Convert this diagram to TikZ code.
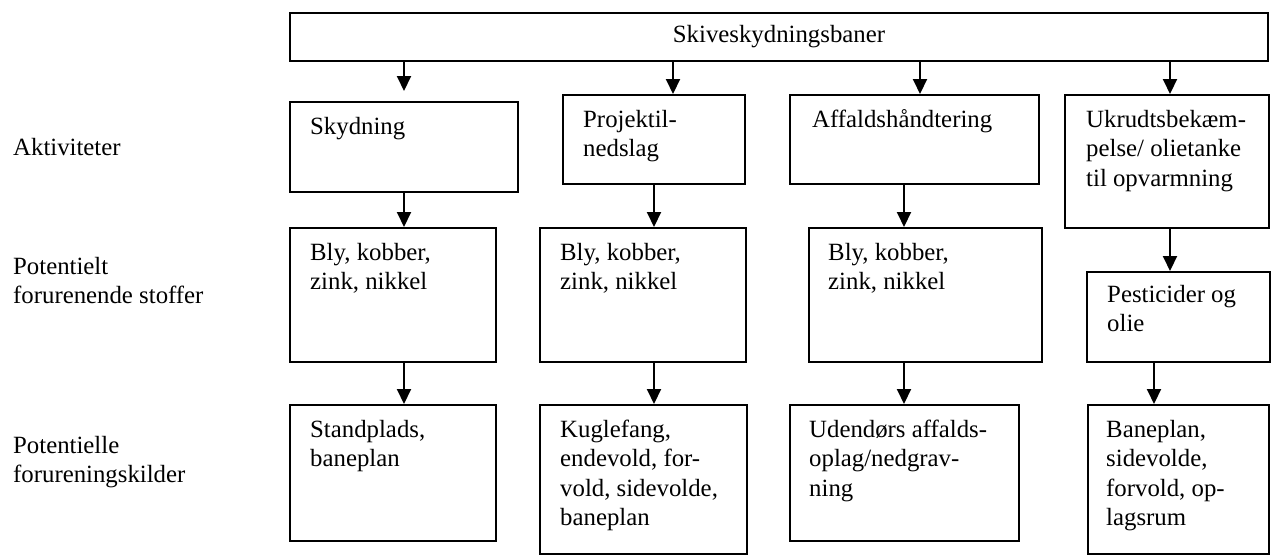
\documentclass[tikz,border=0pt]{standalone}
\usepackage{fontspec}
\setmainfont{Liberation Serif}
\usetikzlibrary{arrows.meta,calc}
\newcommand\dkfont{\fontsize{24.8}{29.5}\selectfont}
\begin{document}
\begin{tikzpicture}[x=1pt,y=-1pt,
  box/.style={draw=black, line width=2pt, inner sep=0pt, rectangle, anchor=north west},
  txt/.style={anchor=north west, inner sep=0pt, align=left, font=\dkfont},
  arr/.style={line width=2pt, -{Triangle[width=14pt,length=15pt]}},
]
\useasboundingbox (0,0) rectangle (1274,555);
% column coordinates for connectors
\coordinate (c1) at (404,0);
\coordinate (c2t) at (673,0);
\coordinate (c2) at (654,0);
\coordinate (c3t) at (920,0);
\coordinate (c3) at (904,0);
\coordinate (c4) at (1170,0);
\coordinate (c4b) at (1154,0);
% top box
\node[box, minimum width=978pt, minimum height=48pt, font=\dkfont] (top) at (289,12) {Skiveskydningsbaner};
% row 1
\node[box, minimum width=228pt, minimum height=90pt] (sky) at (289,101) {};
\node[box, minimum width=182pt, minimum height=89pt] (proj) at (562,94) {};
\node[box, minimum width=249pt, minimum height=89pt] (aff) at (789,94) {};
\node[box, minimum width=204pt, minimum height=133pt] (ukr) at (1064,94) {};
% row 2
\node[box, minimum width=206pt, minimum height=134pt] (bly1) at (289,227) {};
\node[box, minimum width=206pt, minimum height=134pt] (bly2) at (539,227) {};
\node[box, minimum width=233pt, minimum height=134pt] (bly3) at (808,227) {};
\node[box, minimum width=183pt, minimum height=90pt] (pest) at (1086,271) {};
% row 3
\node[box, minimum width=206pt, minimum height=136pt] (std) at (289,404) {};
\node[box, minimum width=207pt, minimum height=149pt] (kug) at (539,404) {};
\node[box, minimum width=229pt, minimum height=136pt] (ude) at (789,404) {};
\node[box, minimum width=181pt, minimum height=149pt] (ban) at (1087,404) {};
% box texts
\node[txt] (tsky) at ($(sky.north west)+(21,12.4)$) {\strut Skydning};
\node[txt] (tproj) at ($(proj.north west)+(21,12.4)$) {\strut Projektil-\\nedslag};
\node[txt] (taff) at ($(aff.north west)+(23,12.4)$) {\strut Affaldshåndtering};
\node[txt] (tukr) at ($(ukr.north west)+(22,12.4)$) {\strut Ukrudtsbekæm-\\pelse/ olietanke\\til opvarmning};
\node[txt] (tbly1) at ($(bly1.north west)+(21,12.4)$) {\strut Bly, kobber,\\zink, nikkel};
\node[txt] (tbly2) at ($(bly2.north west)+(21,12.4)$) {\strut Bly, kobber,\\zink, nikkel};
\node[txt] (tbly3) at ($(bly3.north west)+(20,12.4)$) {\strut Bly, kobber,\\zink, nikkel};
\node[txt] (tpest) at ($(pest.north west)+(21,10.4)$) {\strut Pesticider og\\olie};
\node[txt] (tstd) at ($(std.north west)+(21,12.4)$) {\strut Standplads,\\baneplan};
\node[txt] (tkug) at ($(kug.north west)+(21,12.4)$) {\strut Kuglefang,\\endevold, for-\\vold, sidevolde,\\baneplan};
\node[txt] (tude) at ($(ude.north west)+(20,12.4)$) {\strut Udendørs affalds-\\oplag/nedgrav-\\ning};
\node[txt] (tban) at ($(ban.north west)+(19,12.4)$) {\strut Baneplan,\\sidevolde,\\forvold, op-\\lagsrum};
% left labels
\node[txt] (l1) at (13,134.4) {\strut Aktiviteter};
\node[txt] (l2) at (13,253.4) {\strut Potentielt\\forurenende stoffer};
\node[txt] (l3) at (13,432.4) {\strut Potentielle\\forureningskilder};
% connectors
\draw[arr, shorten >=10pt] (top.south -| c1) -- (sky.north -| c1);
\draw[arr] (top.south -| c2t) -- (proj.north -| c2t);
\draw[arr] (top.south -| c3t) -- (aff.north -| c3t);
\draw[arr] (top.south -| c4) -- (ukr.north -| c4);
\draw[arr] (sky.south -| c1) -- (bly1.north -| c1);
\draw[arr] (proj.south -| c2) -- (bly2.north -| c2);
\draw[arr] (aff.south -| c3) -- (bly3.north -| c3);
\draw[arr] (ukr.south -| c4) -- (pest.north -| c4);
\draw[arr] (bly1.south -| c1) -- (std.north -| c1);
\draw[arr] (bly2.south -| c2) -- (kug.north -| c2);
\draw[arr] (bly3.south -| c3) -- (ude.north -| c3);
\draw[arr] (pest.south -| c4b) -- (ban.north -| c4b);
\end{tikzpicture}
\end{document}
